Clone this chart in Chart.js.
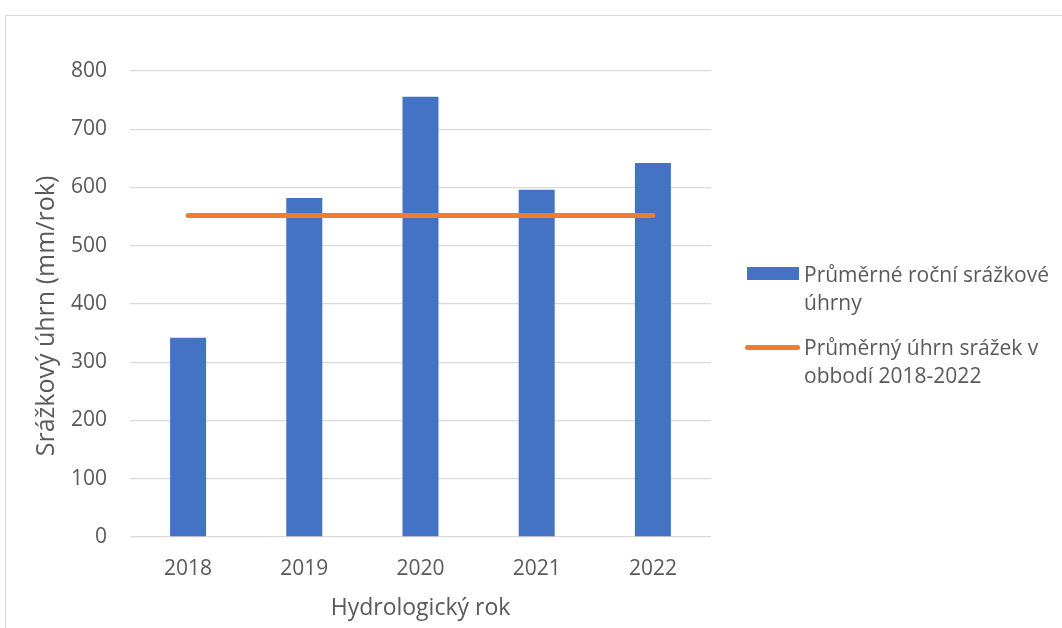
<!DOCTYPE html>
<html lang="cs">
<head>
<meta charset="utf-8">
<title>Srážkové úhrny 2018–2022</title>
<script src="https://cdn.jsdelivr.net/npm/chart.js@4.4.1/dist/chart.umd.min.js"></script>
<style>
  html, body { margin: 0; padding: 0; background: #ffffff; }
  #wrap { position: relative; width: 1062px; height: 628px; overflow: hidden; font-family: "Open Sans", sans-serif; color: #595959; }
  #frame { position: absolute; left: 5px; top: 15px; width: 1200px; height: 800px; border: 1px solid #d9d9d9; box-sizing: border-box; }
  #chart { position: absolute; left: 0; top: 0; }
  .legend-item { position: absolute; left: 745px; width: 317px; }
  .legend-text { position: absolute; left: 59px; width: 256px; font-size: 21px; line-height: 28px; color: #595959; white-space: normal; }
  .legend-key { position: absolute; }
</style>
</head>
<body>
<div id="wrap">
  <div id="frame"></div>
  <canvas id="chart" width="1062" height="628"></canvas>
  <div id="legend"></div>
</div>
<script>
// Hydrological years and annual precipitation totals (mm/rok)
const years = ['2018', '2019', '2020', '2021', '2022'];
const annualPrecip = [342, 582, 756, 596, 642];
// Mean precipitation for the 2018–2022 period
const periodMean = [552, 552, 552, 552, 552];
const yTicks = { min: 0, max: 800, step: 100 };

const seriesNames = ['Průměrné roční srážkové úhrny', 'Průměrný úhrn srážek v obbodí 2018-2022'];
const axisTitles = { x: 'Hydrologický rok', y: 'Srážkový úhrn (mm/rok)' };

const BLUE = '#4472C4';
const ORANGE = '#ED7D31';
const TEXT = '#595959';
const GRID = '#d9d9d9';
const FONT = '"Open Sans", sans-serif';

// Vertical axis title, drawn rotated to the left of the tick labels,
// sitting slightly below the plot's midline as in Office charts
const yAxisTitle = {
  id: 'yAxisTitle',
  afterDraw(c) {
    const ctx = c.ctx;
    const area = c.chartArea;
    ctx.save();
    ctx.translate(47, (area.top + area.bottom) / 2 + 12);
    ctx.rotate(-Math.PI / 2);
    ctx.font = '25px ' + FONT;
    ctx.fillStyle = TEXT;
    ctx.textAlign = 'center';
    ctx.textBaseline = 'middle';
    ctx.fillText(axisTitles.y, 0, 0);
    ctx.restore();
  }
};

const chart = new Chart(document.getElementById('chart'), {
  data: {
    labels: years,
    datasets: [
      {
        type: 'line',
        label: seriesNames[1],
        data: periodMean,
        borderColor: ORANGE,
        backgroundColor: ORANGE,
        borderWidth: 5,
        borderCapStyle: 'round',
        pointRadius: 0,
        pointHoverRadius: 0,
        fill: false,
        order: 0
      },
      {
        type: 'bar',
        label: seriesNames[0],
        data: annualPrecip,
        backgroundColor: BLUE,
        borderWidth: 0,
        barPercentage: 0.62,
        categoryPercentage: 0.5,
        order: 1
      }
    ]
  },
  options: {
    responsive: false,
    animation: false,
    devicePixelRatio: 1,
    layout: { padding: { left: 0, right: 351, top: 71, bottom: 0 } },
    plugins: {
      legend: { display: false },
      tooltip: { enabled: false }
    },
    scales: {
      x: {
        type: 'category',
        grid: { display: false },
        border: { display: false },
        ticks: { color: TEXT, font: { family: FONT, size: 21 }, padding: 11 },
        title: { display: true, text: axisTitles.x, color: TEXT, font: { family: FONT, size: 23 }, padding: { top: 0, bottom: 6 } },
        afterFit(scale) { scale.height = 91; }
      },
      y: {
        min: yTicks.min,
        max: yTicks.max,
        grid: { color: GRID, lineWidth: 1.3, drawTicks: false },
        border: { display: false },
        ticks: { stepSize: yTicks.step, color: TEXT, font: { family: FONT, size: 21 }, padding: 23 },
        title: { display: false },
        afterFit(scale) { scale.width = 130; }
      }
    }
  },
  plugins: [yAxisTitle]
});

// Legend built from the chart's own datasets, shown to the right of the plot
(function buildLegend() {
  const host = document.getElementById('legend');
  const rows = [
    { ds: chart.data.datasets[1], top: 260, key: 'box' },
    { ds: chart.data.datasets[0], top: 333, key: 'line' }
  ];
  rows.forEach(r => {
    const item = document.createElement('div');
    item.className = 'legend-item';
    item.style.top = r.top + 'px';
    const key = document.createElement('div');
    key.className = 'legend-key';
    if (r.key === 'box') {
      Object.assign(key.style, { left: '2px', top: '7px', width: '52px', height: '13px', background: r.ds.backgroundColor });
    } else {
      Object.assign(key.style, { left: '0px', top: '12px', width: '55px', height: '5px', borderRadius: '3px', background: r.ds.borderColor });
    }
    const txt = document.createElement('div');
    txt.className = 'legend-text';
    txt.textContent = r.ds.label;
    item.appendChild(key);
    item.appendChild(txt);
    host.appendChild(item);
  });
})();
</script>
</body>
</html>
